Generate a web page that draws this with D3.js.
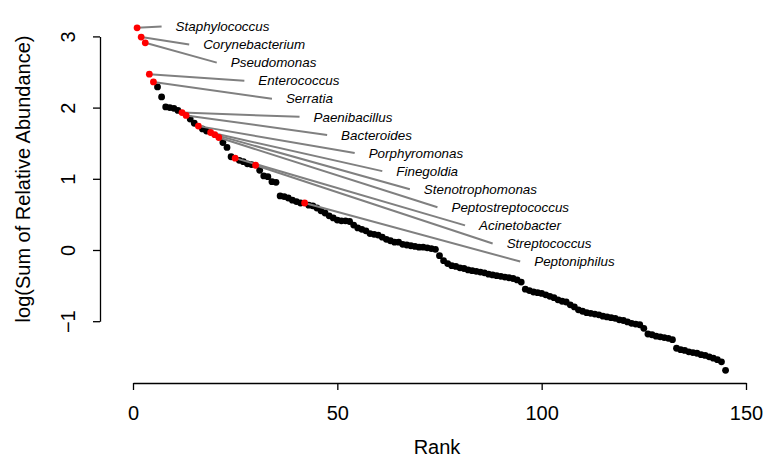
<!DOCTYPE html>
<html>
<head>
<meta charset="utf-8">
<script src="https://cdn.jsdelivr.net/npm/d3@7"></script>
<style>
  body { margin: 0; background: #fff; }
  text { font-family: "Liberation Sans", Arial, Helvetica, sans-serif; }
</style>
</head>
<body>
<div id="chart"></div>
<script>
const width = 769
const height = 460

// log(sum of relative abundance), sorted, rank 1..n
const abundance = [
  3.12, 2.99, 2.91, 2.47, 2.36, 2.29, 2.15, 2.01, 2.00, 1.99,
  1.96, 1.93, 1.89, 1.84, 1.78, 1.74, 1.70, 1.67, 1.65, 1.62,
  1.58, 1.51, 1.44, 1.31, 1.29, 1.26, 1.24, 1.21, 1.20, 1.19,
  1.12, 1.04, 1.03, 0.96, 0.95, 0.76, 0.75, 0.73, 0.70, 0.68,
  0.66, 0.66, 0.63, 0.62, 0.59, 0.55, 0.52, 0.48, 0.45, 0.42,
  0.41, 0.41, 0.40, 0.35, 0.31, 0.29, 0.27, 0.23, 0.22, 0.21,
  0.18, 0.15, 0.13, 0.11, 0.11, 0.08, 0.07, 0.06, 0.05, 0.04,
  0.04, 0.03, 0.02, 0.01, -0.08, -0.15, -0.19, -0.22, -0.23, -0.25,
  -0.26, -0.28, -0.29, -0.30, -0.31, -0.32, -0.34, -0.35, -0.36, -0.37,
  -0.38, -0.39, -0.40, -0.42, -0.45, -0.55, -0.57, -0.59, -0.60, -0.61,
  -0.63, -0.65, -0.67, -0.70, -0.72, -0.73, -0.77, -0.80, -0.84, -0.86,
  -0.88, -0.89, -0.90, -0.91, -0.93, -0.94, -0.95, -0.96, -0.98, -0.99,
  -1.01, -1.03, -1.04, -1.05, -1.10, -1.18, -1.19, -1.21, -1.22, -1.23,
  -1.24, -1.26, -1.38, -1.40, -1.41, -1.43, -1.44, -1.45, -1.47, -1.48,
  -1.50, -1.52, -1.54, -1.57, -1.69
]

const genera = [
  'Staphylococcus', 'Corynebacterium', 'Pseudomonas', 'Enterococcus',
  'Serratia', 'Paenibacillus', 'Bacteroides', 'Porphyromonas',
  'Finegoldia', 'Stenotrophomonas', 'Peptostreptococcus', 'Acinetobacter',
  'Streptococcus', 'Peptoniphilus'
]
const generaRank = [1, 2, 3, 4, 5, 12, 13, 16, 19, 20, 21, 25, 30, 42]

const xTicks = [0, 50, 100, 150]
const yTicks = [-1, 0, 1, 2, 3]

const points = abundance.map((v, i) => ({ rank: i + 1, value: v }))
const highlighted = new Set(generaRank)

const x = d3.scaleLinear().domain([0, 150]).range([133, 746])
const y = d3.scaleLinear().domain([-1, 3]).range([321.2, 36.4])

const axisFont = 20

const svg = d3.select('#chart')
  .append('svg')
  .attr('width', width)
  .attr('height', height)

// axes
const xAxis = svg.append('g')
  .attr('transform', 'translate(0,383)')
  .call(d3.axisBottom(x).tickValues(xTicks).tickSize(7).tickSizeOuter(0).tickPadding(16))
xAxis.select('.domain').attr('stroke', '#000').attr('stroke-width', 1.3)
xAxis.selectAll('.tick line').attr('stroke', '#000').attr('stroke-width', 1.3)
xAxis.selectAll('.tick text')
  .attr('font-size', axisFont)
  .attr('font-family', '"Liberation Sans", Arial, sans-serif')
  .attr('fill', '#000')

const yAxis = svg.append('g')
  .attr('transform', 'translate(100,0)')
  .call(d3.axisLeft(y).tickValues(yTicks).tickSize(7).tickSizeOuter(0)
    .tickFormat(d => d < 0 ? '\u2212' + Math.abs(d) : d))
yAxis.select('.domain').attr('stroke', '#000').attr('stroke-width', 1.3)
yAxis.selectAll('.tick line').attr('stroke', '#000').attr('stroke-width', 1.3)
yAxis.selectAll('.tick text')
  .attr('font-size', axisFont)
  .attr('font-family', '"Liberation Sans", Arial, sans-serif')
  .attr('fill', '#000')
  .attr('text-anchor', 'middle')
  .attr('transform', 'rotate(-90)')
  .attr('x', 0)
  .attr('y', -25)
  .attr('dy', 0)

svg.append('text')
  .attr('x', 437)
  .attr('y', 454)
  .attr('text-anchor', 'middle')
  .attr('font-size', axisFont)
  .text('Rank')

svg.append('text')
  .attr('transform', 'translate(30,179) rotate(-90)')
  .attr('text-anchor', 'middle')
  .attr('font-size', axisFont)
  .text('log(Sum of Relative Abundance)')

// black points first, leader lines over them, then the red ones
svg.append('g')
  .selectAll('circle')
  .data(points.filter(d => !highlighted.has(d.rank)))
  .join('circle')
  .attr('cx', d => x(d.rank))
  .attr('cy', d => y(d.value))
  .attr('r', 3.4)
  .attr('fill', '#000')

// label anchors walk down and right in equal steps
const labelStart = { rank: 7, value: 3.14 }
const labelStep = { rank: 6.75, value: -0.254 }

const labels = genera.map((name, i) => ({
  name: name,
  rank: generaRank[i],
  value: abundance[generaRank[i] - 1],
  lx: labelStart.rank + i * labelStep.rank,
  ly: labelStart.value + i * labelStep.value
}))

svg.append('g')
  .selectAll('line')
  .data(labels)
  .join('line')
  .attr('x1', d => x(d.rank))
  .attr('y1', d => y(d.value))
  .attr('x2', d => x(d.lx))
  .attr('y2', d => y(d.ly))
  .attr('stroke', '#808080')
  .attr('stroke-width', 2)

svg.append('g')
  .selectAll('circle')
  .data(labels)
  .join('circle')
  .attr('cx', d => x(d.rank))
  .attr('cy', d => y(d.value))
  .attr('r', 3.4)
  .attr('fill', '#ff0000')

svg.append('g')
  .selectAll('text')
  .data(labels)
  .join('text')
  .attr('x', d => x(d.lx) + 14)
  .attr('y', d => y(d.ly))
  .attr('dy', '0.35em')
  .attr('font-size', 13.4)
  .attr('font-style', 'italic')
  .text(d => d.name)
</script>
</body>
</html>
